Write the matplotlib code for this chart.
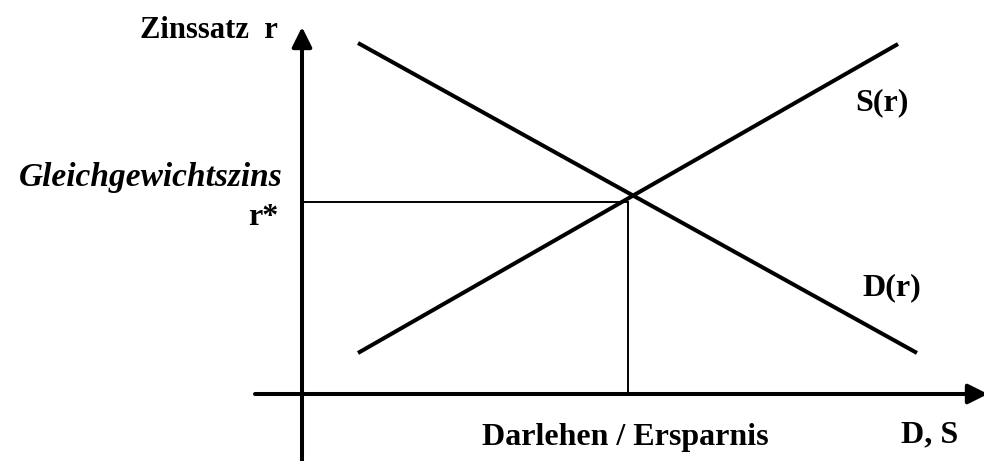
import matplotlib
matplotlib.use("Agg")
import matplotlib.pyplot as plt

# Kreditmarkt: Nachfrage D(r) und Angebot S(r)
demand_q = [0.56, 6.15]
demand_r = [3.51, 0.41]
supply_q = [0.56, 5.96]
supply_r = [0.41, 3.50]
q_star = 3.26
r_star = 1.92

plt.rcParams['font.family'] = ['Liberation Serif', 'DejaVu Serif']

fig = plt.figure(figsize=(9.84, 4.61), dpi=100)
ax = fig.add_axes([0, 0, 1, 1])
ax.set_xlim(-3.02, 6.82)
ax.set_ylim(-0.67, 3.94)
ax.axis('off')

# Achsen mit Pfeilen
arrow = dict(arrowstyle='-|>', lw=2.9, color='black', mutation_scale=30,
             shrinkA=0, shrinkB=0)
ax.annotate('', xy=(0, 3.67), xytext=(0, -0.70), arrowprops=arrow,
            annotation_clip=False)
ax.annotate('', xy=(6.86, 0), xytext=(-0.47, 0), arrowprops=arrow,
            annotation_clip=False)

# Kurven
ax.plot(demand_q, demand_r, color='black', lw=2.9, solid_capstyle='butt')
ax.plot(supply_q, supply_r, color='black', lw=2.9, solid_capstyle='butt')

# Gleichgewicht
ax.plot([0, q_star], [r_star, r_star], color='black', lw=1.4)
ax.plot([q_star, q_star], [r_star, 0], color='black', lw=1.4)

# Beschriftungen
ax.text(-0.24, 3.64, 'Zinssatz  r', ha='right', va='center',
        fontsize=22, fontweight='bold')
ax.text(-0.19, 2.17, 'Gleichgewichtszins', ha='right', va='center',
        fontsize=24, fontweight='bold', fontstyle='italic')
ax.text(-0.24, 1.77, 'r*', ha='right', va='center',
        fontsize=23, fontweight='bold')
ax.text(5.80, 2.91, 'S(r)', ha='center', va='center',
        fontsize=23, fontweight='bold')
ax.text(5.90, 1.06, 'D(r)', ha='center', va='center',
        fontsize=23, fontweight='bold')
ax.text(3.235, -0.43, 'Darlehen / Ersparnis', ha='center', va='center',
        fontsize=23, fontweight='bold')
ax.text(6.275, -0.41, 'D, S', ha='center', va='center',
        fontsize=23, fontweight='bold')

fig.savefig('out.png', dpi=100)
